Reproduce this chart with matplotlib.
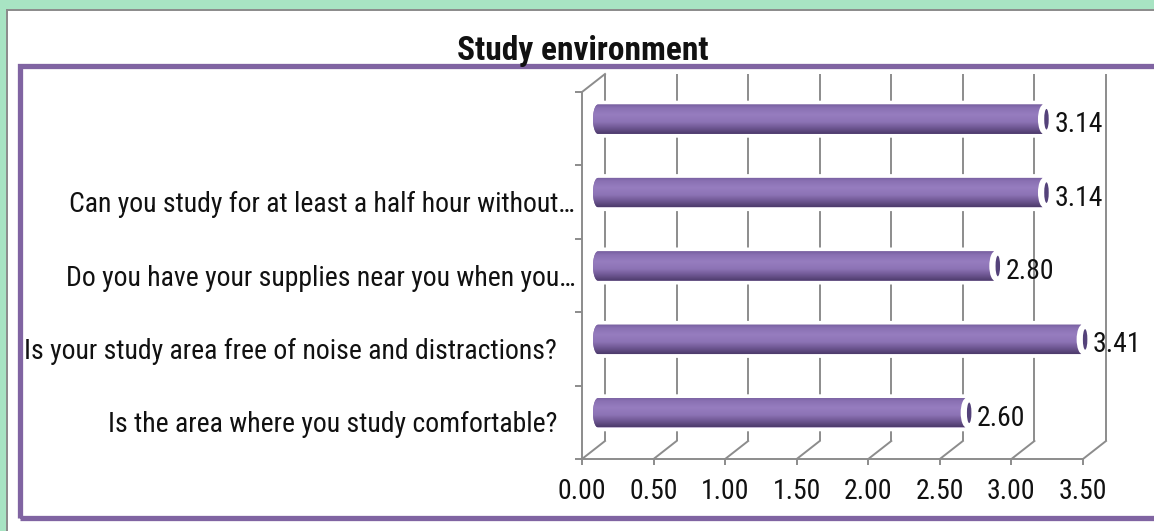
import numpy as np
import matplotlib
matplotlib.use("Agg")
import matplotlib.pyplot as plt
from matplotlib import font_manager as fm
from matplotlib.patches import Polygon, Ellipse, Rectangle
from matplotlib.lines import Line2D
import matplotlib.transforms as mtransforms

# ---------------- data ----------------
title = "Study environment"
categories = [
    "Is the area where you study comfortable?",
    "Is your study area free of noise and distractions?",
    "Do you have your supplies near you when you…",
    "Can you study for at least a half hour without…",
    "",
]
values = [2.60, 3.41, 2.80, 3.14, 3.14]
xticks = [0.0, 0.5, 1.0, 1.5, 2.0, 2.5, 3.0, 3.5]
xtick_labels = ["0.00", "0.50", "1.00", "1.50", "2.00", "2.50", "3.00", "3.50"]

# ---------------- fonts ----------------
entries = fm.fontManager.ttflist
names = {f.name for f in entries}
FAM = None
STRETCH = "normal"
for cand in ["Liberation Sans Narrow", "Roboto Condensed", "Open Sans Condensed",
             "Noto Sans Condensed", "DejaVu Sans Condensed", "Noto Sans SemiCondensed",
             "Roboto Flex"]:
    if cand in names:
        FAM = cand
        break
if FAM is None:
    for f in entries:
        st = str(f.stretch).lower()
        if f.name in ("DejaVu Sans", "Noto Sans", "Roboto", "Open Sans") and \
                ("condensed" in st or st in ("75", "62", "50", "87")):
            FAM = f.name
            STRETCH = "condensed"
            break
if FAM is not None:
    SZ_CAT, SZ_NUM, SZ_TITLE = 20, 20, 24
else:
    FAM = "Liberation Sans"
    SZ_CAT, SZ_NUM, SZ_TITLE = 15.5, 17, 20
plt.rcParams["font.family"] = [FAM, "DejaVu Sans"]
plt.rcParams["font.stretch"] = STRETCH

W, H = 1154, 531
fig = plt.figure(figsize=(W / 100, H / 100), dpi=100)
fig.patch.set_facecolor("white")

def fx(px):
    return px / W

def fy(py):
    return 1 - py / H

# ---------------- outer frame ----------------
green = "#a8e4c3"
fig.add_artist(Rectangle((0, 0), fx(6), 1, transform=fig.transFigure,
                         facecolor=green, edgecolor="none", zorder=0))
fig.add_artist(Rectangle((0, fy(9)), 1, 9 / H, transform=fig.transFigure,
                         facecolor=green, edgecolor="none", zorder=0))
fig.add_artist(Line2D([fx(7), fx(7)], [fy(10), 0], transform=fig.transFigure,
                      color="#8a8a8a", lw=1.4, zorder=1))
fig.add_artist(Line2D([fx(7), 1], [fy(10), fy(10)], transform=fig.transFigure,
                      color="#8a8a8a", lw=1.4, zorder=1))

purple = "#8064a2"
fig.add_artist(Rectangle((fx(20), fy(517.5)), fx(1200) - fx(20), (517.5 - 65.5) / H,
                         transform=fig.transFigure, facecolor="none",
                         edgecolor=purple, lw=3.8, zorder=1))

# ---------------- axes ----------------
ax = fig.add_axes([fx(582), fy(459), (1083 - 582) / W, (459 - 92) / H])
ax.set_xlim(0, 3.5)
ax.set_ylim(-0.5, len(categories) - 0.5)
ax.patch.set_visible(False)
for s in ["top", "right"]:
    ax.spines[s].set_visible(False)
grid_c = "#8c8c8c"
for s in ["left", "bottom"]:
    ax.spines[s].set_color(grid_c)
    ax.spines[s].set_linewidth(1.4)

ax.set_xticks(xticks)
ax.set_xticklabels(xtick_labels)
ax.tick_params(axis="x", direction="out", length=4.5, width=1.4, color=grid_c,
               pad=9, labelsize=SZ_NUM, labelcolor="#111111")
ax.set_yticks(np.arange(-0.5, len(categories), 1.0))
ax.set_yticklabels([])
ax.tick_params(axis="y", direction="out", length=5, width=1.4, color=grid_c)

dpi_t = fig.dpi_scale_trans
back = mtransforms.ScaledTranslation(23 / 100, 18 / 100, dpi_t)
mid = mtransforms.ScaledTranslation(11 / 100, 9.5 / 100, dpi_t)
t_back = ax.transData + back
t_mid = ax.transData + mid

ymax = len(categories) - 0.5
inv = ax.transData.inverted()
# back wall gridlines
for xv in xticks:
    ax.add_line(Line2D([xv, xv], [-0.5, ymax], transform=t_back, color=grid_c,
                       lw=1.4, zorder=1, clip_on=False, solid_capstyle="butt"))
# floor diagonals
for xv in xticks:
    q0 = inv.transform(ax.transData.transform((xv, -0.5)))
    q1 = inv.transform(t_back.transform((xv, -0.5)))
    ax.add_line(Line2D([q0[0], q1[0]], [q0[1], q1[1]], color=grid_c, lw=1.4,
                       zorder=1, clip_on=False))
# left wall top edge
q0 = inv.transform(ax.transData.transform((0, ymax)))
q1 = inv.transform(t_back.transform((0, ymax)))
ax.add_line(Line2D([q0[0], q1[0]], [q0[1], q1[1]], color=grid_c, lw=1.4,
                   zorder=1, clip_on=False))

# ---------------- bars (cylinders) ----------------
ppx = ax.transData.transform((1, 0))[0] - ax.transData.transform((0, 0))[0]
bar_h = 0.4
rx = 5 / ppx

stops = np.array([0.00, 0.12, 0.35, 0.60, 0.82, 1.00])
cols = np.array([
    (0.46, 0.37, 0.62),
    (0.54, 0.44, 0.70),
    (0.59, 0.49, 0.75),
    (0.55, 0.45, 0.71),
    (0.42, 0.33, 0.56),
    (0.30, 0.23, 0.42),
])
nrow = 64
tt = np.linspace(0, 1, nrow)
img = np.zeros((nrow, 1, 3))
for c in range(3):
    img[:, 0, c] = np.interp(tt, stops, cols[:, c])

for yi, v in enumerate(values):
    th = np.linspace(np.pi / 2, 3 * np.pi / 2, 40)
    xs = rx + rx * np.cos(th)
    ys = yi + bar_h / 2 * np.sin(th)
    verts = list(zip(xs, ys)) + [(v, yi - bar_h / 2), (v, yi + bar_h / 2)]
    halo = Polygon(verts, closed=True, transform=t_mid, facecolor="white",
                   edgecolor="white", lw=5.5, zorder=3, clip_on=False)
    ax.add_patch(halo)
    body = Polygon(verts, closed=True, transform=t_mid, facecolor=purple,
                   edgecolor="none", zorder=4, clip_on=False)
    ax.add_patch(body)
    im = ax.imshow(img, extent=(0, v, yi - bar_h / 2, yi + bar_h / 2),
                   origin="upper", aspect="auto", interpolation="bilinear",
                   transform=t_mid, zorder=5)
    im.set_clip_path(body)
    # white cut at the right end
    ax.add_patch(Ellipse((v + 1.5 / ppx, yi), 12 / ppx, bar_h * 1.02,
                         transform=t_mid, facecolor="white", edgecolor="none",
                         zorder=6, clip_on=False))
    # end cap
    ax.add_patch(Ellipse((v + 4 / ppx, yi), 4.5 / ppx, bar_h * 0.7,
                         transform=t_mid, facecolor="#54427a", edgecolor="none",
                         zorder=7, clip_on=False))
    # value label
    lab_t = ax.transData + mtransforms.ScaledTranslation(23 / 100, -3.5 / 100, dpi_t)
    ax.text(v, yi, f"{v:.2f}", transform=lab_t, ha="left", va="baseline",
            fontsize=SZ_NUM, color="#111111", zorder=8, clip_on=False)

ax.set_xlim(0, 3.5)
ax.set_ylim(-0.5, ymax)

# ---------------- category labels ----------------
for yi, lab in enumerate(categories):
    if not lab:
        continue
    pad = 7 if lab.endswith("…") else 25
    tr = ax.transData + mtransforms.ScaledTranslation(-pad / 100, -10 / 100, dpi_t)
    ax.text(0, yi, lab, transform=tr, ha="right", va="baseline",
            fontsize=SZ_CAT, color="#111111", clip_on=False)

# ---------------- title ----------------
fig.text(fx(583), fy(60), title, ha="center", va="baseline", fontsize=SZ_TITLE,
         fontweight="bold", color="#111111", zorder=10)

fig.savefig("out.png", dpi=100)
